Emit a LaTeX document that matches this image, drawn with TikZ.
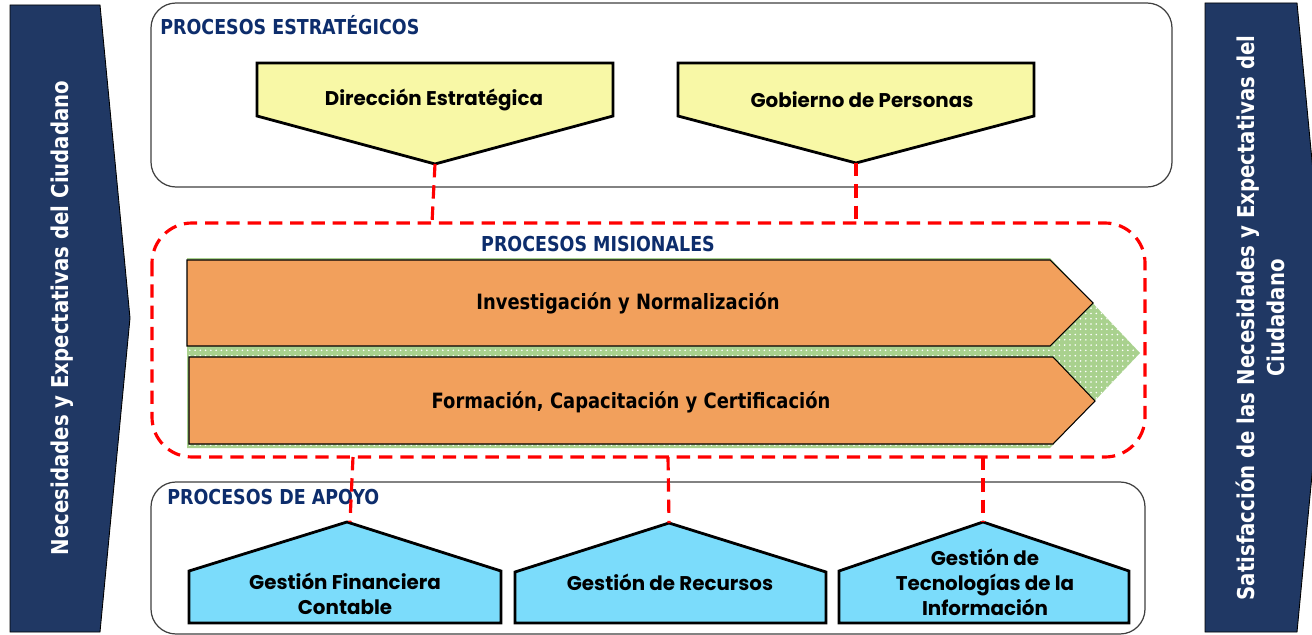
\documentclass[tikz,border=0pt]{standalone}
\usepackage{fontspec}
\setmainfont{DejaVu Sans}
\newfontfamily\tah{DejaVu Sans}[FakeStretch=0.85]
\newfontfamily\gothic{Poppins}
\usetikzlibrary{patterns}
\definecolor{navy}{HTML}{203864}
\definecolor{headblue}{HTML}{0D2D6C}
\definecolor{yel}{HTML}{F8F8A6}
\definecolor{ora}{HTML}{F2A05C}
\definecolor{grn}{HTML}{A9D18E}
\definecolor{sky}{HTML}{7BDCFB}
\tikzset{
  procbox/.style={draw=black!75, line width=0.7pt, rounded corners=0.5cm},
  mision/.style={draw=red, line width=1.8pt, dash pattern=on 7.6pt off 4.5pt, rounded corners=0.8cm},
  link/.style={draw=red, line width=1.8pt, dash pattern=on 7.6pt off 4.5pt},
  pent/.style={line width=1.6pt, draw=black, line join=miter},
  yellowpent/.style={pent, fill=yel},
  bluepent/.style={pent, fill=sky},
  orangearrow/.style={draw=black, line width=0.6pt, fill=ora},
  sidearrow/.style={draw=black, fill=navy, line width=0.5pt},
  head/.style={font=\tah\bfseries\fontsize{11.7}{13}\selectfont, text=headblue, inner sep=0pt},
  sidetext/.style={font=\tah\bfseries\fontsize{13.2}{17}\selectfont, text=white, rotate=90, align=center, inner sep=0pt},
  misiontext/.style={font=\tah\bfseries\fontsize{12}{15}\selectfont, text=black, inner sep=0pt},
  pentext/.style={font=\gothic\bfseries\fontsize{11.3}{14.2}\selectfont, text=black, align=center, inner sep=0pt},
}
\begin{document}
\begin{tikzpicture}[x=0.02cm, y=-0.02cm]
\clip (0,0) rectangle (1312,635);
\fill[white] (0,0) rectangle (1312,635);

% side arrows
\draw[sidearrow] (10,5) -- (100,5) -- (130,318) -- (100,632) -- (10,632) -- cycle;
\node[sidetext] (need) at (62,318) {Necesidades y Expectativas del Ciudadano};
\draw[sidearrow] (1205,3) -- (1297,3) -- (1327,318) -- (1297,632) -- (1205,632) -- cycle;
\node[sidetext] (satis) at (1260,318) {Satisfacción de las Necesidades y Expectativas del\\Ciudadano};

% strategic box
\draw[procbox] (151,3) rectangle (1172,187);
\node[head, anchor=west] (hest) at (160,25) {PROCESOS ESTRATÉGICOS};
\draw[yellowpent] (257,63) -- (613,63) -- (613,116) -- (435,164) -- (257,116) -- cycle;
\coordinate (tipA) at (435,164);
\node[pentext] (dir) at (434,100) {Dirección Estratégica};
\draw[yellowpent] (678,63) -- (1034,63) -- (1034,116) -- (856,163) -- (678,116) -- cycle;
\coordinate (tipB) at (856,163);
\node[pentext] (gob) at (862,100) {Gobierno de Personas};

% misional
\draw[mision] (152,223) rectangle (1145,457);
\node[head] (hmis) at (598,244) {PROCESOS MISIONALES};
\fill[grn] (187,258) -- (1050,258) -- (1140,353) -- (1050,448) -- (187,448) -- cycle;
\fill[pattern=dots, pattern color=white] (187,258) -- (1050,258) -- (1140,353) -- (1050,448) -- (187,448) -- cycle;
\draw[orangearrow] (187,260) -- (1050,260) -- (1093,303) -- (1050,346) -- (187,346) -- cycle;
\node[misiontext] (inv) at (628,303) {Investigación y Normalización};
\draw[orangearrow] (189,357) -- (1053,357) -- (1095,401) -- (1053,444) -- (189,444) -- cycle;
\node[misiontext] (form) at (631,402) {Formación, Capacitación y Certificación};

\coordinate (mA) at (432,223);
\coordinate (mB) at (856,223);
\coordinate (mC) at (353,457);
\coordinate (mD) at (668,457);
\coordinate (mE) at (983,457);

% support box
\draw[procbox] (151,482) rectangle (1145,634);
\node[head, anchor=west] (hapo) at (167,497) {PROCESOS DE APOYO};
\draw[bluepent] (189,623) -- (189,571) -- (347,522) -- (501,571) -- (501,623) -- cycle;
\coordinate (apC) at (350,522);
\node[pentext] (fin) at (345,594) {Gestión Financiera\\Contable};
\draw[bluepent] (515,623) -- (515,572) -- (669,523) -- (826,572) -- (826,623) -- cycle;
\coordinate (apD) at (669,523);
\node[pentext] (rec) at (670,582) {Gestión de Recursos};
\draw[bluepent] (839,623) -- (839,571) -- (983,522) -- (1129,571) -- (1129,623) -- cycle;
\coordinate (apE) at (983,522);
\node[pentext] (tec) at (985,582) {Gestión de\\Tecnologías de la\\Información};

% connectors
\draw[link] (tipA) -- (mA);
\draw[link] (tipB) -- (mB);
\draw[link] (mC) -- (apC);
\draw[link] (mD) -- (apD);
\draw[link] (mE) -- (apE);
\end{tikzpicture}
\end{document}
